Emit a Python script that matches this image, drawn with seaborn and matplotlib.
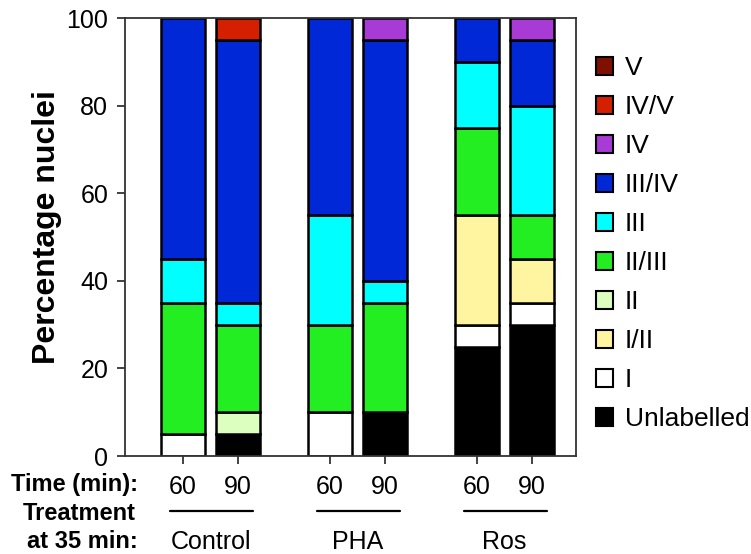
import numpy as np
import pandas as pd
import matplotlib
matplotlib.use("Agg")
import matplotlib.pyplot as plt
from matplotlib.patches import Patch
from matplotlib.lines import Line2D
import matplotlib.transforms as mtransforms
import seaborn as sns

# ---- data ----
treatments = ["Control", "PHA", "Ros"]
times = ["60", "90"]
# order: Control60, Control90, PHA60, PHA90, Ros60, Ros90
unlabelled = [0, 5, 0, 10, 25, 30]
stage_I = [5, 0, 10, 0, 5, 5]
stage_I_II = [0, 0, 0, 0, 25, 10]
stage_II = [0, 5, 0, 0, 0, 0]
stage_II_III = [30, 20, 20, 25, 20, 10]
stage_III = [10, 5, 25, 5, 15, 25]
stage_III_IV = [55, 60, 45, 55, 10, 15]
stage_IV = [0, 0, 0, 5, 0, 5]
stage_IV_V = [0, 5, 0, 0, 0, 0]
stage_V = [0, 0, 0, 0, 0, 0]

stage_names = ["Unlabelled", "I", "I/II", "II", "II/III", "III", "III/IV", "IV", "IV/V", "V"]
stage_values = [unlabelled, stage_I, stage_I_II, stage_II, stage_II_III,
                stage_III, stage_III_IV, stage_IV, stage_IV_V, stage_V]
stage_colors = ["#000000", "#ffffff", "#fff5a0", "#dcffc0", "#22ee22",
                "#00ffff", "#0028d6", "#a83ad6", "#d42000", "#7f1000"]

# ---- figure ----
sns.set_theme(style="ticks")
plt.rcParams["font.family"] = ["Liberation Sans", "DejaVu Sans"]
plt.rcParams["text.color"] = "black"
plt.rcParams["axes.labelcolor"] = "black"
plt.rcParams["xtick.color"] = "black"
plt.rcParams["ytick.color"] = "black"

fig = plt.figure(figsize=(7.51, 5.54), dpi=100)
ax = fig.add_axes([125 / 751, 1 - 456 / 554, (576 - 125) / 751, (456 - 18) / 554])

group_gap = 2.673
positions = [g * group_gap + t for g in range(len(treatments)) for t in range(len(times))]

bottom = np.zeros(len(positions))
for name, vals, col in zip(stage_names, stage_values, stage_colors):
    vals = np.array(vals, dtype=float)
    n_before = len(ax.patches)
    df = pd.DataFrame({"pos": positions, "val": vals})
    sns.barplot(data=df, x="pos", y="val", native_scale=True, errorbar=None,
                color=col, saturation=1, width=0.8, bottom=bottom,
                edgecolor="black", linewidth=1.8, ax=ax)
    for p in ax.patches[n_before:]:
        if p.get_height() == 0:
            p.set_visible(False)
    bottom = bottom + vals

ax.set_xlim(-1.055, 7.145)
ax.set_ylim(0, 100)
ax.set_yticks(np.arange(0, 101, 20))
ax.set_xticks(positions)
ax.set_xticklabels(times * len(treatments))
ax.tick_params(axis="both", direction="out", length=6, width=1.2, labelsize=18,
               colors="#222222", labelcolor="black")
ax.tick_params(axis="x", pad=8)
ax.tick_params(axis="y", pad=6)
for s in ax.spines.values():
    s.set_visible(True)
    s.set_linewidth(1.3)
    s.set_color("#333333")
ax.set_xlabel("")
ax.set_ylabel("Percentage nuclei", fontsize=23, fontweight="bold", color="black")
ax.yaxis.set_label_coords(-0.14, 0.523)

# ---- lower annotations ----
def fy(px):
    return 1 - px / 554

fig.text(138 / 751, fy(484), "Time (min):", ha="right", va="center",
         fontsize=17, fontweight="bold", color="black")
fig.text(136 / 751, fy(513), "Treatment", ha="right", va="center",
         fontsize=17, fontweight="bold", color="black")
fig.text(138 / 751, fy(542), "at 35 min:", ha="right", va="center",
         fontsize=17, fontweight="bold", color="black")

blend = mtransforms.blended_transform_factory(ax.transData, fig.transFigure)
for g, name in enumerate(treatments):
    x0 = positions[2 * g]
    x1 = positions[2 * g + 1]
    ax.add_line(Line2D([x0 - 0.23, x1 + 0.28], [fy(511), fy(511)], transform=blend,
                       color="black", linewidth=1.6, clip_on=False))
    ax.text((x0 + x1) / 2, fy(542), name, transform=blend, ha="center", va="center",
            fontsize=18, color="black", clip_on=False)

# ---- legend ----
handles = [Patch(facecolor=c, edgecolor="black", linewidth=1.5, label=n)
           for n, c in zip(stage_names, stage_colors)][::-1]
fig.legend(handles=handles, loc="upper left", bbox_to_anchor=(596 / 751, fy(56)),
           frameon=False, fontsize=19, handlelength=0.65, handleheight=0.65,
           handletextpad=0.45, labelspacing=0.57, borderpad=0, borderaxespad=0,
           labelcolor="black")

fig.savefig("out.png", dpi=100)
